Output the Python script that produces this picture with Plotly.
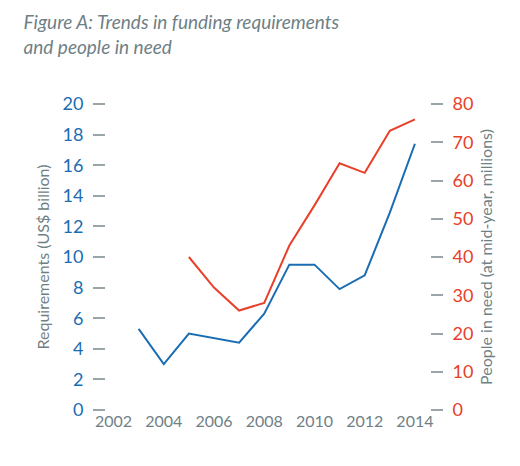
import plotly.graph_objects as go

years_req = [2003, 2004, 2005, 2006, 2007, 2008, 2009, 2010, 2011, 2012, 2013, 2014]
requirements = [5.3, 3.0, 5.0, 4.7, 4.4, 6.3, 9.5, 9.5, 7.9, 8.8, 12.9, 17.4]
years_people = [2005, 2006, 2007, 2008, 2009, 2010, 2011, 2012, 2013, 2014]
people = [40, 32, 26, 28, 43, 53.5, 64.5, 62, 73, 76]

blue = "#1a6db3"
red = "#e8402a"
grey = "#6f7f86"

fig = go.Figure()
fig.add_trace(go.Scatter(x=years_req, y=requirements, mode="lines",
                         line=dict(color=blue, width=2), yaxis="y"))
fig.add_trace(go.Scatter(x=years_people, y=people, mode="lines",
                         line=dict(color=red, width=2), yaxis="y2"))

fig.update_layout(
    width=520, height=466,
    margin=dict(l=98, r=98, t=96, b=64),
    plot_bgcolor="white", paper_bgcolor="white",
    showlegend=False,
    font=dict(family="Lato", size=16, color=grey),
    title=dict(text="<i>Figure A: Trends in funding requirements<br>and people in need</i>",
               x=0.03, xanchor="left", y=0.955, yanchor="top",
               font=dict(size=19, color=grey)),
    xaxis=dict(range=[2001.7, 2014.6], tickvals=list(range(2002, 2015, 2)),
               showgrid=False, showline=False, zeroline=False,
               tickfont=dict(color=grey, size=16)),
    yaxis=dict(range=[0, 20], tickvals=list(range(0, 21, 2)),
               showgrid=False, zeroline=False, showline=False,
               ticks="outside", ticklen=12, tickwidth=2, tickcolor="#9aa5aa",
               ticklabelstandoff=6,
               tickfont=dict(color=blue, size=18),
               title=dict(text="Requirements (US$ billion)", font=dict(color=grey, size=16), standoff=8)),
    yaxis2=dict(range=[0, 80], tickvals=list(range(0, 81, 10)), overlaying="y", side="right",
                showgrid=False, zeroline=False, showline=False,
                ticks="outside", ticklen=12, tickwidth=2, tickcolor="#9aa5aa",
                ticklabelstandoff=6,
                tickfont=dict(color=red, size=18),
                title=dict(text="People in need (at mid-year, millions)", font=dict(color=grey, size=16), standoff=8)),
)

fig.write_html("out.html")
